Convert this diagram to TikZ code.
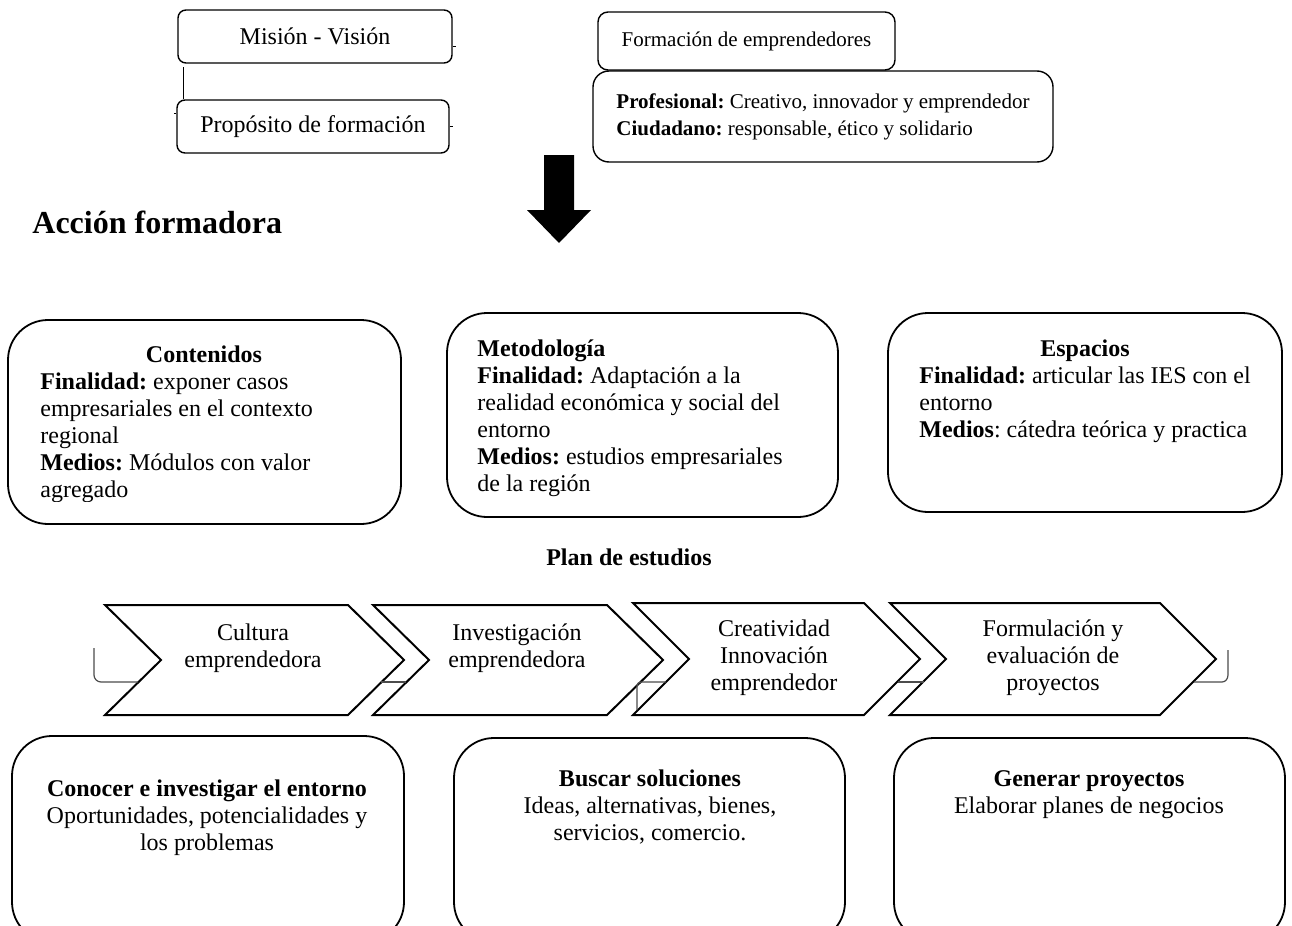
\documentclass[tikz,border=0pt]{standalone}
\usepackage{fontspec}
\setmainfont{Liberation Serif}
\usepackage{tikz}
\frenchspacing

\begin{document}
\begin{tikzpicture}[x=0.5pt,y=-0.5pt,
  topbox/.style={draw,rounded corners=4pt,line width=0.7pt,inner sep=0pt,font=\fontsize{12}{13.5}\selectfont},
  bigbox/.style={draw,rounded corners=20pt,line width=0.9pt},
  chevron/.style={draw,line width=1pt},
  txt/.style={inner sep=0pt,font=\fontsize{12}{13.5}\selectfont},
  link/.style={draw=black!70,line width=0.6pt}]
\useasboundingbox (0,0) rectangle (1292,926);

\node[topbox,minimum width=137pt,minimum height=26.5pt] (mision) at (315,36.5) {Misión - Visión};
\node[topbox,minimum width=136pt,minimum height=26.5pt] (proposito) at (313,126.5) {Propósito de formación};
\coordinate (mvlink) at (183,67);
\draw (mvlink) -- (mvlink |- proposito.north);
\draw ([yshift=-5pt]mision.east) -- ++(3,0);
\draw (proposito.east) -- ++(3,0);
\draw ([yshift=6.5pt]proposito.west) -- ++(-2,0);

\node[topbox,rounded corners=5pt,minimum width=148.5pt,minimum height=29pt,font=\fontsize{10.5}{13.5}\selectfont] (formacion) at (746.5,41) {Formación de emprendedores};
\node[topbox,rounded corners=8pt,minimum width=230pt,minimum height=45.5pt,align=left,font=\fontsize{10.5}{13.5}\selectfont] (perfil) at (823,116.5) {\textbf{Profesional:} Creativo, innovador y emprendedor\\\textbf{Ciudadano:} responsable, ético y solidario};

\fill (544,155) -- (574,155) -- (574,210) -- (591,210) -- (559,243) -- (527,210) -- (544,210) -- cycle;
\node[anchor=west,inner sep=0pt,font=\fontsize{16}{19}\bfseries] (accion) at (32,222) {Acción formadora};

% acción formadora
\draw[bigbox] (8,320) rectangle (401,524);
\draw[bigbox] (447,313) rectangle (838,517);
\draw[bigbox] (888,313) rectangle (1282,512);
\node[txt,anchor=base] (contenidos) at (204,362) {\textbf{Contenidos}};
\begin{scope}
\clip (8,320) rectangle (401,501);
\node[txt,align=left,anchor=base west] (contbody) at (40,497) {\textbf{Finalidad:} exponer casos\\empresariales en el contexto\\regional\\\textbf{Medios:} Módulos con valor\\agregado};
\end{scope}
\node[txt,align=left,anchor=base west] (metodologia) at (477,491) {\textbf{Metodología}\\\textbf{Finalidad:} Adaptación a la\\realidad económica y social del\\entorno\\\textbf{Medios:} estudios empresariales\\de la región};
\node[txt,anchor=base] (espacios) at (1085,356) {\textbf{Espacios}};
\node[txt,align=left,anchor=base west] (espbody) at (919,437) {\textbf{Finalidad:} articular las IES con el\\entorno\\\textbf{Medios}: cátedra teórica y practica};

\node[txt,font=\fontsize{12}{13.5}\bfseries] (plan) at (629,557) {Plan de estudios};

% plan de estudios
\foreach \xl/\xr/\yt in {105/348/605,373/607/605,633/864/603,890/1160/603}
  \draw[chevron] (\xl,\yt) -- (\xr,\yt) -- (\xr+56,{(\yt+715)/2}) -- (\xr,715) -- (\xl,715) -- (\xl+56,{(\yt+715)/2}) -- cycle;
\node[txt,align=center] (cultura) at (253,648) {Cultura\\emprendedora};
\node[txt,align=center] (investigacion) at (517,648) {Investigación\\emprendedora};
\node[txt,align=center] (creatividad) at (774,658) {Creatividad\\Innovación\\emprendedor};
\node[txt,align=center] (formulacion) at (1053,658) {Formulación y\\evaluación de\\proyectos};
\draw[link] (94,648) -- (94,675) to[out=-90,in=180] (101,682) -- (138,682);
\draw[link] (381,682) -- (406,682);
\draw[link] (637,710) -- (637,686) to[out=90,in=180] (641,682) -- (666,682);
\draw[link] (898,682) -- (924,682);
\draw[link] (1194,682) -- (1222,682) to[out=0,in=-90] (1228,675) -- (1228,650);

\draw[bigbox] (12,736) rectangle (404,942);
\draw[bigbox] (454,738) rectangle (845,942);
\draw[bigbox] (894,738) rectangle (1285,942);
\node[txt,align=center,anchor=base] (conocer) at (207,850) {\textbf{Conocer e investigar el entorno}\\Oportunidades, potencialidades y\\los problemas};
\node[txt,align=center,anchor=base] (buscar) at (650,840) {\textbf{Buscar soluciones}\\Ideas, alternativas, bienes,\\servicios, comercio.};
\node[txt,align=center,anchor=base] (generar) at (1089,813) {\textbf{Generar proyectos}\\Elaborar planes de negocios};
\end{tikzpicture}
\end{document}
